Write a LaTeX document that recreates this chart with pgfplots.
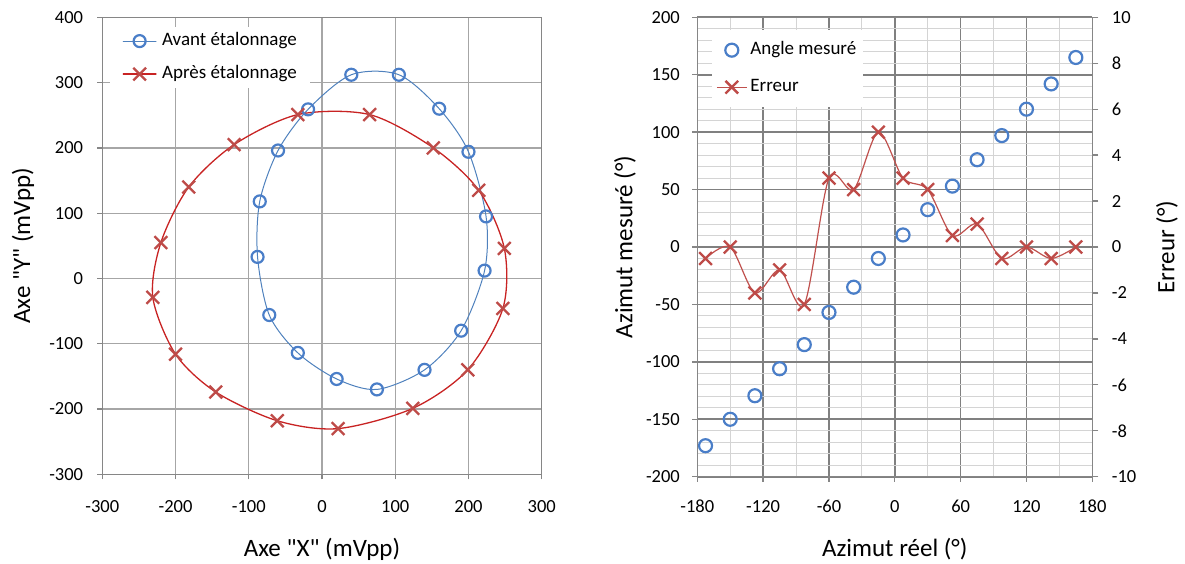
\documentclass[border=0pt]{standalone}
\usepackage{fontspec}
\setmainfont{Carlito}[Ligatures=TeXOff]
\usepackage{pgfplots}
\pgfplotsset{compat=1.18}
\definecolor{axisgray}{RGB}{134,134,134}
\definecolor{gridgray}{RGB}{166,166,166}
\definecolor{gridmaj}{RGB}{128,128,128}
\definecolor{gridmin}{RGB}{212,212,212}
\definecolor{bluemark}{RGB}{74,126,200}
\definecolor{blueline}{RGB}{79,129,189}
\definecolor{redmark}{RGB}{190,75,72}
\definecolor{redline}{RGB}{200,35,35}
\definecolor{redline2}{RGB}{192,80,77}

\pgfplotsset{
  common/.style={
    scale only axis,
    tick align=outside, major tick length=5pt,
    axis line style={draw=axisgray, line width=1.5pt},
    tick style={draw=axisgray, line width=1.3pt},
    tick label style={font=\fontsize{18.5}{20}\selectfont, text=black},
    /pgf/number format/assume math mode=true,
  },
}

\begin{document}
\begin{tikzpicture}
\path[use as bounding box] (0pt,0pt) rectangle (1185pt,563pt);

% ---------------- Left chart ----------------
\begin{axis}[common,
  at={(102.3pt,88.7pt)}, anchor=south west,
  width=439.4pt, height=457pt,
  xmin=-300, xmax=300, ymin=-300, ymax=400,
  xtick={-300,-200,...,300}, ytick={-300,-200,...,400},
  tick pos=left,
  grid=major, major grid style={draw=gridgray, line width=1.3pt},
  yticklabel style={inner sep=0pt, xshift=-14pt},
  xticklabel style={inner sep=0pt, yshift=-20.7pt},
  every axis x label/.style={at={(axis description cs:0.5,-0.1635)}, anchor=center, font=\fontsize{25}{28}\selectfont},
  every axis y label/.style={at={(axis description cs:-0.1805,0.5)}, anchor=center, rotate=90, font=\fontsize{25}{28}\selectfont},
  xlabel={Axe "X" (mVpp)}, ylabel={Axe "Y" (mVpp)},
  legend cell align=left,
  legend style={at={(axis description cs:0.0175,0.979)}, anchor=north west,
    draw=none, fill=white, inner xsep=10pt, inner ysep=6pt,
    font=\fontsize{19}{21}\selectfont, row sep=17pt,
    nodes={inner xsep=3pt, inner ysep=0pt, text height=12pt, text depth=4pt}},
  legend image code/.code={\draw[mark repeat=2,mark phase=2,#1] plot coordinates {(0pt,0pt) (16.5pt,0pt) (33pt,0pt)};},
]
\addplot[blueline, line width=1pt, smooth cycle, mark=o, mark size=6pt,
  mark options={draw=bluemark, line width=2.2pt, solid}] coordinates {
(40,312) (105,312) (160,260) (200,194) (224,95) (222,12) (190,-80) (140,-140)
(75,-170) (20,-154) (-33,-114) (-72,-56) (-88,33) (-85,118) (-60,196) (-19,259)
};
\addlegendentry{Avant étalonnage}
\addplot[redline, line width=1.3pt, smooth cycle, mark=x, mark size=9pt,
  mark options={draw=redmark, line width=2.3pt, solid}] coordinates {
(-33,251) (65,251) (152,200) (214,135) (249,46) (247,-46) (199,-140) (124,-199)
(22,-230) (-61,-218) (-145,-174) (-200,-116) (-231,-29) (-220,55) (-182,140) (-120,205)
};
\addlegendentry{Après étalonnage}
\end{axis}

% ---------------- Right chart: left axis ----------------
\begin{axis}[common,
  at={(697.3pt,86.3pt)}, anchor=south west,
  width=395pt, height=459.4pt,
  xmin=-180, xmax=180, ymin=-200, ymax=200,
  xtick={-180,-120,...,180}, minor x tick num=1,
  ytick={-200,-150,...,200}, minor y tick num=4,
  tick pos=left, minor tick length=0pt,
  grid=both, major grid style={draw=gridmaj, line width=1.6pt},
  minor grid style={draw=gridmin, line width=1pt},
  yticklabel style={inner sep=0pt, xshift=-12.3pt},
  xticklabel style={inner sep=0pt, yshift=-18.3pt},
  every axis x label/.style={at={(axis description cs:0.5,-0.157)}, anchor=center, font=\fontsize{25}{28}\selectfont},
  every axis y label/.style={at={(axis description cs:-0.183,0.5)}, anchor=center, rotate=90, font=\fontsize{25}{28}\selectfont},
  xlabel={Azimut réel (°)}, ylabel={Azimut mesuré (°)},
]
\addplot[only marks, mark=o, mark size=6.5pt,
  mark options={draw=bluemark, line width=2.2pt}] coordinates {
(-172.5,-173) (-150,-150) (-127.5,-129.5) (-105,-106) (-82.5,-85) (-60,-57)
(-37.5,-35) (-15,-10) (7.5,10.5) (30,32.5) (52.5,53) (75,76) (97.5,97)
(120,120) (142.5,142) (165,165)
};
\end{axis}

% ---------------- Right chart: right axis ----------------
\begin{axis}[common,
  at={(697.3pt,86.3pt)}, anchor=south west,
  width=395pt, height=459.4pt,
  xmin=-180, xmax=180, ymin=-10, ymax=10,
  ytick={-10,-8,...,10}, major tick length=6pt,
  axis y line*=right, axis x line=none,
  yticklabel style={inner sep=0pt, xshift=13.4pt},
  every axis y label/.style={at={(axis description cs:1.189,0.5)}, anchor=center, rotate=90, font=\fontsize{25}{28}\selectfont},
  ylabel={Erreur (°)},
  legend cell align=left,
  legend style={at={(axis description cs:0.0372,0.9724)}, anchor=north west,
    draw=none, fill=white, inner xsep=4pt, inner ysep=12pt,
    font=\fontsize{19}{21}\selectfont, row sep=21pt,
    nodes={inner xsep=3pt, inner ysep=0pt, text height=12pt, text depth=4pt}},
  legend image code/.code={\draw[mark repeat=2,mark phase=2,#1] plot coordinates {(0pt,0pt) (15pt,0pt) (30pt,0pt)};},
]
\addlegendimage{only marks, mark=o, mark size=6.5pt, mark options={draw=bluemark, line width=2.2pt}}
\addlegendentry{Angle mesuré}
\addplot[redline2, line width=1.2pt, smooth, mark=x, mark size=9pt,
  mark options={draw=redmark, line width=2.3pt, solid}] coordinates {
(-172.5,-0.5) (-150,0) (-127.5,-2) (-105,-1) (-82.5,-2.5) (-60,3)
(-37.5,2.5) (-15,5) (7.5,3) (30,2.5) (52.5,0.5) (75,1) (97.5,-0.5)
(120,0) (142.5,-0.5) (165,0)
};
\addlegendentry{Erreur}
\end{axis}
\end{tikzpicture}
\end{document}
